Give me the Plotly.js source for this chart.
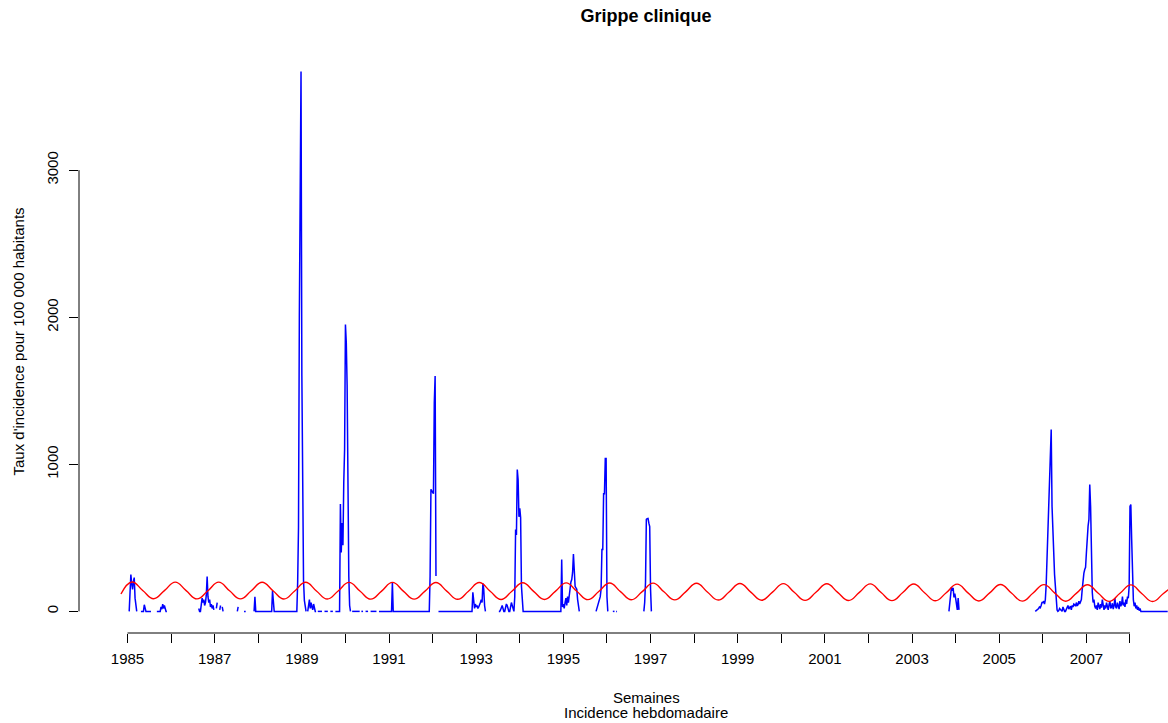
<!DOCTYPE html>
<html>
<head>
<meta charset="utf-8">
<script src="https://cdn.plot.ly/plotly-3.0.1.min.js"></script>
<style>
  html, body { margin: 0; padding: 0; background: #ffffff; }
  #chart { width: 1168px; height: 723px; }
</style>
</head>
<body>
<div id="chart"></div>
<script>
// Weekly clinical influenza incidence (rate per 100 000 inhabitants)
// together with the seasonal baseline curve.

const WEEKS_PER_YEAR = 52;

// Runs of consecutive reported weeks: [year, first week] and the weekly rates
const runStarts = [
  [1985, 3], [1985, 17], [1985, 36], [1986, 34],
  [1987, 3], [1987, 7], [1987, 10], [1987, 28], [1987, 36], [1987, 48],
  [1988, 17], [1988, 47], [1989, 8], [1989, 46],
  [1991, 4], [1991, 49], [1992, 48], [1993, 28], [1993, 47],
  [1994, 50], [1995, 40], [1996, 45], [2003, 45], [2005, 44]
];
const runRates = [
  [0, 120, 250, 190, 150, 200, 230, 90, 20, 0],
  [0, 0, 0, 0, 45, 10, 0, 0, 0, 0, 0, 0, 0],
  [0, 0, 0, 0, 0, 30, 15, 50, 20, 40, 10, 0, 0],
  [20, 0, 0, 50, 90, 60, 80, 40, 60, 110, 237, 100, 60, 80, 30, 50, 20, 40, 10],
  [20, 60],
  [10, 40],
  [30, 0],
  [0, 30],
  [0, 0, 0],
  [0, 100, 0, 0],
  [0, 140, 60, 0],
  [0, 200, 570, 2000, 3180, 3670, 1600, 680, 210, 75, 20, 0],
  [0, 40, 80, 20, 60, 30, 10, 50, 20, 0, 0],
  [0, 730, 400, 600, 450, 880, 1100, 1950, 1830, 1540, 650, 240, 40, 0],
  [0, 197, 0],
  [0, 240, 830, 820, 810, 800, 1420, 1600, 240],
  [0, 130, 40, 20, 50, 30, 40, 20, 30, 40, 60, 80, 60, 190, 150, 40, 0],
  [0, 0, 10, 30, 40, 20, 0, 0, 20, 50, 40, 10, 0, 0, 30, 60, 40, 20, 0],
  [100, 557, 520, 964, 896, 643, 700, 638, 170, 30, 0],
  [0, 353, 30, 50, 20, 60, 90, 40, 100, 60, 120, 150, 200, 217, 265, 390, 250, 170, 160, 150, 80, 20, 0],
  [0, 20, 40, 60, 80, 100, 150, 420, 420, 800, 800, 1040, 1040, 100, 0],
  [0, 60, 200, 625, 630, 632, 600, 577, 150, 0],
  [0, 50, 120, 165, 140, 160, 95, 120, 88, 40, 10, 90, 10],
  [
    // 2005, weeks 44-52
    0, 5, 10, 10, 20, 30, 25, 40, 60,
    // 2006
    60, 70, 50, 80, 180, 353, 536, 650, 876, 1080,
    1236, 713, 530, 400, 250, 170, 40, 10, 0, 5,
    20, 10, 0, 0, 30, 10, 0, 0, 10, 25,
    40, 15, 30, 35, 10, 40, 30, 50, 45, 35,
    60, 40, 45, 70, 50, 60, 80, 150, 237, 260, 285, 300,
    // 2007
    400, 536, 580, 625, 862, 713, 353, 130, 60, 80, 35,
    20, 40, 10, 60, 30, 15, 50, 25, 80, 30, 10, 40, 20, 60, 35, 10, 45, 70, 20,
    30, 55, 15, 40, 90, 30, 20, 60, 40, 15, 70, 35, 50, 100, 40, 60, 30, 80, 50, 100,
    90, 170,
    // 2008, weeks 1-14
    713, 726, 489, 237, 80, 35, 60, 20, 40, 10, 30, 5, 20, 0
  ]
];

// Runs of weeks reported at zero: [year, first week, number of weeks]
const zeroRuns = [
  [1987, 52, 17], [1988, 21, 26],
  [1989, 20, 6], [1989, 28, 5], [1989, 35, 4], [1989, 41, 5],
  [1990, 9, 10], [1990, 20, 3], [1990, 25, 4], [1990, 31, 8], [1990, 41, 12],
  [1991, 1, 3], [1991, 7, 42], [1992, 8, 40], [1994, 6, 44],
  [1996, 8, 3], [1996, 12, 2], [2008, 15, 32]
];

// Seasonal baseline, one value every 13 weeks from late 1984
const baselineStart = 1984.85;
const baselineStepYears = 13 / 52.18;
const baselineRates = [
  118,
  200, 142, 86, 141,
  199, 141, 85, 140,
  199, 140, 85, 140,
  198, 140, 84, 139,
  198, 139, 84, 139,
  197, 139, 83, 138,
  197, 138, 83, 138,
  196, 138, 82, 137,
  196, 137, 81, 137,
  195, 136, 81, 136,
  194, 135, 80, 135,
  193, 134, 79, 134,
  192, 133, 78, 133,
  191, 132, 77, 132,
  190, 131, 76, 131,
  189, 130, 75, 130,
  188, 129, 74, 129,
  187, 128, 73, 128,
  186, 127, 72, 127,
  185, 126, 71, 126,
  183, 125, 70, 125,
  182, 124, 69, 124,
  181, 123, 68, 123,
  180, 122, 67, 122,
  179
];

const yearTicks = [1985, 1986, 1987, 1988, 1989, 1990, 1991, 1992, 1993, 1994, 1995, 1996,
                   1997, 1998, 1999, 2000, 2001, 2002, 2003, 2004, 2005, 2006, 2007, 2008];
const yearLabels = ['1985', '', '1987', '', '1989', '', '1991', '', '1993', '', '1995', '',
                    '1997', '', '1999', '', '2001', '', '2003', '', '2005', '', '2007', ''];
const rateTicks = [0, 1000, 2000, 3000];

// ---- weekly series, with breaks where weeks are missing ----
function weekIndex(year, week) { return (year - 1984) * WEEKS_PER_YEAR + (week - 1); }

const rateByWeek = new Map();
zeroRuns.forEach(([y, w, n]) => {
  for (let k = 0; k < n; k++) rateByWeek.set(weekIndex(y, w) + k, 0);
});
runStarts.forEach(([y, w], r) => {
  runRates[r].forEach((v, k) => rateByWeek.set(weekIndex(y, w) + k, v));
});

const weeks = [...rateByWeek.keys()].sort((a, b) => a - b);
const weeklyX = [], weeklyY = [];
weeks.forEach((i, k) => {
  if (k > 0 && i - weeks[k - 1] > 1) {
    weeklyX.push(1984 + (i - 0.5) / WEEKS_PER_YEAR);
    weeklyY.push(null);
  }
  weeklyX.push(1984 + i / WEEKS_PER_YEAR);
  weeklyY.push(rateByWeek.get(i));
});

const baselineX = baselineRates.map((_, i) => baselineStart + i * baselineStepYears);

const FONT = 'Liberation Sans, Arial, Helvetica, sans-serif';

const traces = [
  {
    x: weeklyX, y: weeklyY, type: 'scatter', mode: 'lines',
    line: { color: '#0000ff', width: 1.5 }, connectgaps: false, hoverinfo: 'skip'
  },
  {
    x: baselineX, y: baselineRates, type: 'scatter', mode: 'lines',
    line: { color: '#ff0000', width: 1.4, shape: 'spline', smoothing: 1.3 }, hoverinfo: 'skip'
  }
];

const layout = {
  width: 1168, height: 723,
  margin: { l: 79, r: 0, t: 50, b: 90, pad: 0 },
  paper_bgcolor: '#ffffff', plot_bgcolor: '#ffffff',
  showlegend: false,
  font: { family: FONT, size: 15, color: '#000000' },
  title: {
    text: '<b>Grippe clinique</b>',
    font: { family: FONT, size: 18, color: '#000000' },
    xref: 'paper', x: 0.5207, xanchor: 'center',
    yref: 'container', y: 0.978, yanchor: 'middle'
  },
  xaxis: {
    range: [1983.887, 2008.872],
    tickmode: 'array', tickvals: yearTicks, ticktext: yearLabels,
    ticks: 'outside', ticklen: 9, tickwidth: 1, tickcolor: '#000000',
    ticklabelstandoff: 3,
    showgrid: false, zeroline: false, showline: false,
    tickfont: { family: FONT, size: 15, color: '#000000' }
  },
  yaxis: {
    range: [-147, 3817],
    tickmode: 'array', tickvals: rateTicks,
    ticks: 'outside', ticklen: 9, tickwidth: 1, tickcolor: '#000000',
    tickangle: -90, ticklabelstandoff: 5,
    showgrid: false, zeroline: false, showline: false,
    tickfont: { family: FONT, size: 15, color: '#000000' }
  },
  shapes: [
    { type: 'line', xref: 'x', yref: 'paper', x0: yearTicks[0], x1: yearTicks[yearTicks.length - 1], y0: 0, y1: 0,
      line: { color: '#000000', width: 1 } },
    { type: 'line', xref: 'paper', yref: 'y', x0: 0, x1: 0, y0: rateTicks[0], y1: rateTicks[rateTicks.length - 1],
      line: { color: '#000000', width: 1 } }
  ],
  annotations: [
    { text: "Taux d'incidence pour 100 000 habitants", xref: 'paper', yref: 'paper',
      x: -0.056, y: 0.5, textangle: -90, showarrow: false, xanchor: 'center', yanchor: 'middle',
      font: { family: FONT, size: 15, color: '#000000' } },
    { text: 'Semaines', xref: 'paper', yref: 'paper', x: 0.5207, y: -0.1098,
      showarrow: false, xanchor: 'center', yanchor: 'middle',
      font: { family: FONT, size: 15, color: '#000000' } },
    { text: 'Incidence hebdomadaire', xref: 'paper', yref: 'paper', x: 0.5207, y: -0.1372,
      showarrow: false, xanchor: 'center', yanchor: 'middle',
      font: { family: FONT, size: 15, color: '#000000' } }
  ]
};

Plotly.newPlot('chart', traces, layout, { displayModeBar: false, staticPlot: true });
</script>
</body>
</html>
